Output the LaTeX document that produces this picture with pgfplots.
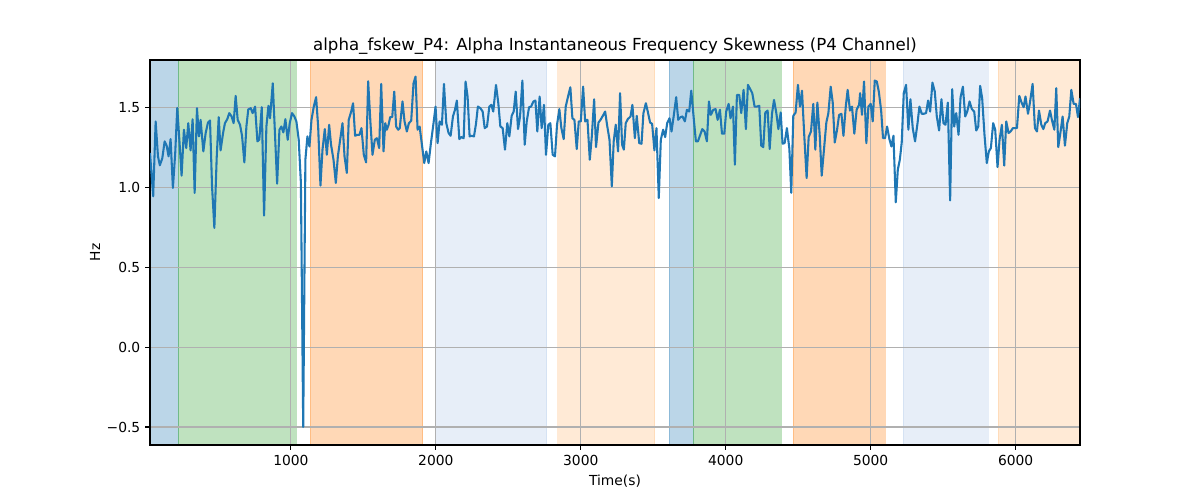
\documentclass[border=0pt]{standalone}
\usepackage{pgfplots}
\pgfplotsset{compat=1.18}
\usepackage{pgfplotstable}
\usepackage{fontspec}
\setmainfont{DejaVu Sans}
\definecolor{tabblue}{HTML}{1F77B4}
\definecolor{tabgreen}{HTML}{2CA02C}
\definecolor{taborange}{HTML}{FF7F0E}
\definecolor{lightblue}{HTML}{AEC7E8}
\definecolor{lightorange}{HTML}{FFBB78}
\definecolor{gridgray}{HTML}{B0B0B0}
\pgfplotstableread{
x y
28 1.217
50 0.946
67 1.415
83 1.196
96 1.14
113 1.185
129 1.29
143 1.263
156 1.196
170 1.304
186 0.998
202 1.217
216 1.50
232 1.279
246 1.075
262 1.363
278 1.248
292 1.404
308 1.233
322 1.429
336 0.967
352 1.498
366 1.321
377 1.425
396 1.227
412 1.342
428 1.408
442 1.421
456 1.008
472 0.748
488 1.185
502 1.442
515 1.233
532 1.342
545 1.404
561 1.429
575 1.467
591 1.446
605 1.404
619 1.575
633 1.425
649 1.394
663 1.325
679 1.158
693 1.383
706 1.49
723 1.498
736 1.467
753 1.508
769 1.29
782 1.30
799 1.504
815 0.825
831 1.383
845 1.513
856 1.435
875 1.654
888 1.383
905 1.025
921 1.363
934 1.383
948 1.346
962 1.429
978 1.30
992 1.404
1008 1.467
1024 1.446
1038 1.415
1054 1.30
1069 1.03
1085 -0.5
1100 1.175
1114 1.321
1128 1.258
1142 1.425
1158 1.508
1174 1.567
1188 1.383
1204 1.013
1218 1.238
1234 1.367
1248 1.206
1264 1.394
1277 1.269
1294 1.175
1310 1.029
1324 1.196
1340 1.30
1356 1.404
1370 1.196
1386 1.092
1399 1.425
1416 1.477
1429 1.529
1443 1.325
1457 1.331
1473 1.331
1487 1.373
1503 1.206
1519 1.158
1533 1.667
1549 1.404
1563 1.206
1579 1.30
1593 1.31
1609 1.248
1623 1.65
1639 1.227
1651 1.404
1662 1.363
1674 1.394
1685 1.442
1699 1.442
1713 1.602
1726 1.383
1740 1.363
1751 1.373
1770 1.54
1784 1.415
1800 1.352
1814 1.404
1830 1.419
1846 1.654
1860 1.696
1874 1.363
1888 1.383
1904 1.269
1920 1.154
1934 1.227
1950 1.154
1966 1.279
1984 1.404
1998 1.508
2012 1.279
2026 1.415
2042 1.394
2056 1.65
2072 1.404
2088 1.342
2102 1.325
2118 1.446
2132 1.488
2145 1.546
2162 1.304
2175 1.317
2192 1.31
2205 1.665
2219 1.571
2233 1.321
2247 1.325
2263 1.321
2277 1.40
2290 1.508
2307 1.498
2323 1.477
2337 1.373
2353 1.383
2369 1.508
2383 1.519
2396 1.477
2415 1.644
2431 1.529
2445 1.383
2461 1.373
2477 1.238
2493 1.404
2507 1.321
2523 1.45
2537 1.477
2551 1.602
2567 1.367
2581 1.446
2597 1.671
2613 1.269
2627 1.415
2643 1.504
2657 1.508
2673 1.54
2687 1.546
2700 1.352
2716 1.571
2730 1.373
2746 1.519
2760 1.206
2776 1.394
2790 1.404
2806 1.206
2822 1.196
2836 1.394
2852 1.492
2866 1.373
2882 1.304
2896 1.508
2912 1.571
2928 1.629
2942 1.435
2956 1.425
2972 1.242
2986 1.415
3000 1.415
3016 1.633
3030 1.415
3046 1.425
3062 1.175
3076 1.321
3092 1.554
3105 1.254
3122 1.408
3136 1.425
3152 1.45
3168 1.477
3181 1.394
3198 1.30
3214 1.008
3227 1.29
3241 1.394
3257 1.227
3271 1.592
3285 1.269
3297 1.238
3310 1.404
3324 1.429
3343 1.446
3356 1.519
3373 1.31
3386 1.45
3403 1.279
3419 1.275
3432 1.467
3449 1.529
3462 1.477
3478 1.408
3492 1.40
3508 1.233
3522 1.373
3538 0.935
3552 1.30
3568 1.363
3582 1.317
3596 1.404
3612 1.435
3626 1.352
3642 1.456
3658 1.567
3672 1.425
3688 1.442
3702 1.446
3718 1.415
3732 1.488
3748 1.477
3762 1.608
3778 1.446
3794 1.29
3808 1.29
3824 1.331
3838 1.367
3854 1.352
3870 1.29
3884 1.54
3897 1.456
3914 1.488
3930 1.492
3944 1.425
3960 1.488
3974 1.338
3990 1.338
4003 1.477
4020 1.525
4033 1.435
4050 1.508
4063 1.144
4077 1.581
4093 1.581
4107 1.467
4123 1.613
4139 1.367
4153 1.644
4169 1.617
4183 1.592
4199 1.508
4215 1.508
4231 1.513
4245 1.263
4259 1.254
4273 1.471
4289 1.483
4303 1.242
4319 1.463
4333 1.55
4349 1.467
4363 1.367
4379 1.471
4392 1.275
4406 1.279
4422 1.373
4439 1.242
4452 0.967
4466 1.45
4482 1.471
4498 1.644
4512 1.508
4526 1.608
4542 1.321
4558 1.06
4572 1.317
4588 1.352
4604 1.525
4618 1.238
4632 1.533
4648 1.331
4662 1.075
4678 1.242
4694 1.408
4708 1.467
4724 1.633
4738 1.533
4752 1.283
4768 1.363
4782 1.456
4798 1.463
4812 1.325
4828 1.508
4841 1.613
4857 1.483
4871 1.508
4887 1.338
4903 1.488
4920 1.519
4927 1.592
4940 1.456
4954 1.665
4970 1.279
4984 1.508
5000 1.525
5014 1.415
5028 1.671
5042 1.665
5056 1.602
5072 1.483
5085 1.31
5099 1.31
5113 1.383
5129 1.304
5143 1.258
5157 1.325
5173 0.908
5187 1.113
5201 1.175
5214 1.283
5228 1.592
5244 1.644
5260 1.363
5274 1.554
5290 1.373
5306 1.29
5323 1.404
5336 1.508
5352 1.463
5366 1.463
5382 1.467
5396 1.546
5410 1.477
5426 1.658
5442 1.602
5456 1.446
5472 1.358
5488 1.554
5502 1.404
5516 1.394
5532 1.533
5548 0.92
5562 1.617
5576 1.383
5590 1.467
5606 1.331
5620 1.567
5636 1.633
5652 1.446
5666 1.477
5682 1.54
5698 1.492
5714 1.477
5728 1.358
5742 1.383
5755 1.638
5769 1.56
5785 1.331
5801 1.154
5815 1.227
5829 1.248
5845 1.404
5859 1.363
5875 1.129
5889 1.30
5905 1.394
5921 1.138
5935 1.415
5951 1.342
5965 1.352
5981 1.373
5995 1.373
6009 1.373
6025 1.575
6041 1.533
6055 1.504
6068 1.571
6085 1.463
6098 1.529
6117 1.65
6133 1.373
6147 1.352
6161 1.483
6177 1.394
6191 1.367
6204 1.404
6220 1.415
6237 1.483
6250 1.425
6267 1.363
6280 1.623
6294 1.254
6310 1.352
6324 1.446
6340 1.263
6356 1.404
6370 1.446
6384 1.613
6400 1.525
6416 1.525
6430 1.442
6444 1.56
}\datatable
\begin{document}
\begin{tikzpicture}
\begin{axis}[
  at={(0,0)}, anchor=south west,
  set layers,
  scale only axis, width=9.3in, height=3.85in,
  xmin=28, xmax=6444, ymin=-0.613, ymax=1.80,
  xtick={1000,2000,3000,4000,5000,6000},
  xticklabels={1000,2000,3000,4000,5000,6000},
  ytick={-0.5,0,0.5,1,1.5},
  yticklabels={−0.5,0.0,0.5,1.0,1.5},
  tick pos=left,
  grid=major,
  grid style={color=gridgray, line width=0.8pt},
  axis line style={line width=0.8pt, black},
  tick style={black, line width=0.8pt},
  tick align=outside, major tick length=3.5pt,
  tick label style={font=\fontsize{10}{12}\selectfont},
  xlabel={Time(s)}, ylabel={Hz},
  label style={font=\fontsize{10}{12}\selectfont},
  xlabel style={at={(axis description cs:0.5,-0.0935)}, anchor=center},
  ylabel style={at={(axis description cs:-0.0591,0.5)}, anchor=center},
  every axis title shift=0pt,
  title={alpha\_fskew\_P4: Alpha Instantaneous Frequency Skewness (P4 Channel)},
  title style={font=\fontsize{12}{14}\selectfont, at={(axis description cs:0.5,1.0364)}, anchor=center},
]
\addplot[on layer=axis background, fill=tabblue, fill opacity=0.3, draw=tabblue, draw opacity=0.3] coordinates {(28,-0.613) (28,1.80) (223,1.80) (223,-0.613)} --cycle;
\addplot[on layer=axis background, fill=tabgreen, fill opacity=0.3, draw=tabgreen, draw opacity=0.3] coordinates {(223,-0.613) (223,1.80) (1038,1.80) (1038,-0.613)} --cycle;
\addplot[on layer=axis background, fill=taborange, fill opacity=0.3, draw=taborange, draw opacity=0.3] coordinates {(1135,-0.613) (1135,1.80) (1908,1.80) (1908,-0.613)} --cycle;
\addplot[on layer=axis background, fill=lightblue, fill opacity=0.3, draw=lightblue, draw opacity=0.3] coordinates {(2005,-0.613) (2005,1.80) (2764,1.80) (2764,-0.613)} --cycle;
\addplot[on layer=axis background, fill=lightorange, fill opacity=0.3, draw=lightorange, draw opacity=0.3] coordinates {(2840,-0.613) (2840,1.80) (3510,1.80) (3510,-0.613)} --cycle;
\addplot[on layer=axis background, fill=tabblue, fill opacity=0.3, draw=tabblue, draw opacity=0.3] coordinates {(3607,-0.613) (3607,1.80) (3773,1.80) (3773,-0.613)} --cycle;
\addplot[on layer=axis background, fill=tabgreen, fill opacity=0.3, draw=tabgreen, draw opacity=0.3] coordinates {(3773,-0.613) (3773,1.80) (4380,1.80) (4380,-0.613)} --cycle;
\addplot[on layer=axis background, fill=taborange, fill opacity=0.3, draw=taborange, draw opacity=0.3] coordinates {(4463,-0.613) (4463,1.80) (5098,1.80) (5098,-0.613)} --cycle;
\addplot[on layer=axis background, fill=lightblue, fill opacity=0.3, draw=lightblue, draw opacity=0.3] coordinates {(5222,-0.613) (5222,1.80) (5809,1.80) (5809,-0.613)} --cycle;
\addplot[on layer=axis background, fill=lightorange, fill opacity=0.3, draw=lightorange, draw opacity=0.3] coordinates {(5878,-0.613) (5878,1.80) (6444,1.80) (6444,-0.613)} --cycle;
\addplot[tabblue, line width=1.5pt, line join=round, mark=none] table[x=x, y=y] {\datatable};
\end{axis}
\path[use as bounding box] (-1.5in,-0.55in) rectangle (10.5in,4.45in);
\end{tikzpicture}
\end{document}
